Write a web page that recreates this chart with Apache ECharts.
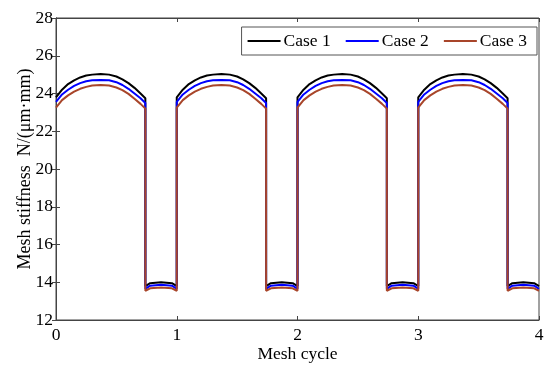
<!DOCTYPE html>
<html>
<head>
<meta charset="utf-8">
<script src="https://cdn.jsdelivr.net/npm/echarts@6/dist/echarts.min.js"></script>
<style>html,body{margin:0;padding:0;background:#fff}#c{width:550px;height:368px}</style>
</head>
<body>
<div id="c"></div>
<script>
// Phase positions within one mesh cycle (fraction of cycle)
const cyclePhase = [0, 0.05, 0.10, 0.15, 0.20, 0.25, 0.30, 0.37, 0.44, 0.50, 0.55, 0.60, 0.65, 0.70, 0.74, 0.74, 0.78, 0.87, 0.96, 1.0];
const cycles = [0, 1, 2, 3];
// Stiffness for one cycle
const case1 = [23.8, 24.2, 24.5, 24.7, 24.85, 24.95, 25.0, 25.03, 25.0, 24.9, 24.75, 24.55, 24.3, 24.0, 23.75, 13.8, 13.95, 14.0, 13.95, 13.8];
const case2 = [23.55, 23.95, 24.2, 24.4, 24.55, 24.65, 24.7, 24.72, 24.7, 24.6, 24.45, 24.25, 24.0, 23.75, 23.5, 13.65, 13.82, 13.87, 13.82, 13.65];
const case3 = [23.25, 23.65, 23.9, 24.1, 24.25, 24.35, 24.42, 24.45, 24.42, 24.32, 24.18, 23.98, 23.72, 23.45, 23.2, 13.55, 13.68, 13.72, 13.68, 13.55];
const xTicks = [0, 1, 2, 3, 4];
const yTicks = [12, 14, 16, 18, 20, 22, 24, 26, 28];
const caseNames = ['Case 1', 'Case 2', 'Case 3'];
const caseColors = ['#000000', '#0000ff', '#a8452a'];

function build(vals) {
  const out = [];
  cycles.forEach(c => {
    cyclePhase.forEach((p, i) => out.push([c + p, vals[i]]));
  });
  return out;
}
const chart = echarts.init(document.getElementById('c'));
const font = 'Liberation Serif, Times New Roman, serif';
const axisCol = '#444';
chart.setOption({
  animation: false,
  textStyle: { fontFamily: font },
  grid: { left: 56, right: 11, top: 18, bottom: 48, show: true, borderColor: axisCol, borderWidth: 1, containLabel: false, outerBoundsMode: 'none' },
  legend: {
    right: 13, top: 27, orient: 'horizontal',
    backgroundColor: '#fff', borderColor: '#555', borderWidth: 1,
    padding: [5, 10, 5, 6], itemGap: 15, itemWidth: 33, itemHeight: 2, icon: 'rect',
    textStyle: { fontFamily: font, fontSize: 17.5, color: '#000', padding: [0, 0, 0, -2] },
    data: caseNames
  },
  xAxis: [{
    type: 'value', min: 0, max: 4, interval: 1,
    name: 'Mesh cycle', nameLocation: 'middle', nameGap: 25, nameMoveOverlap: false,
    nameTextStyle: { fontFamily: font, fontSize: 17.5, color: '#000' },
    axisLine: { show: true, lineStyle: { color: axisCol } },
    axisTick: { inside: true, length: 4, lineStyle: { color: axisCol } },
    axisLabel: { fontFamily: font, fontSize: 17.5, color: '#000', margin: 6 },
    splitLine: { show: false }
  }, {
    type: 'value', min: 0, max: 4, interval: 1, position: 'top',
    axisLine: { show: true, lineStyle: { color: axisCol } },
    axisTick: { inside: true, length: 4, lineStyle: { color: axisCol } },
    axisLabel: { show: false }, splitLine: { show: false }
  }],
  yAxis: [{
    type: 'value', min: 12, max: 28, interval: 2,
    name: 'Mesh stiffness  N/(μm·mm)', nameLocation: 'middle', nameGap: 22, nameMoveOverlap: false,
    nameTextStyle: { fontFamily: font, fontSize: 18, color: '#000' },
    axisLine: { show: true, lineStyle: { color: axisCol } },
    axisTick: { inside: true, length: 4, lineStyle: { color: axisCol } },
    axisLabel: { fontFamily: font, fontSize: 17.5, color: '#000', margin: 3 },
    splitLine: { show: false }
  }, {
    type: 'value', min: 12, max: 28, interval: 2, position: 'right',
    axisLine: { show: true, lineStyle: { color: axisCol } },
    axisTick: { inside: true, length: 4, lineStyle: { color: axisCol } },
    axisLabel: { show: false }, splitLine: { show: false }
  }],
  series: [case1, case2, case3].map((v, i) => ({
    name: caseNames[i], type: 'line', data: build(v),
    showSymbol: false, smooth: false,
    lineStyle: { color: caseColors[i], width: 2 },
    itemStyle: { color: caseColors[i] }
  }))
});
</script>
</body>
</html>
